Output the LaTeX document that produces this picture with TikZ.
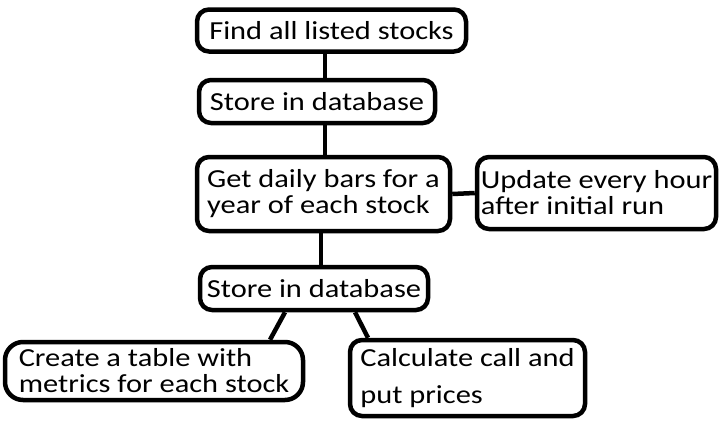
\documentclass[tikz,border=0pt]{standalone}
\usepackage{fontspec}
\setmainfont{Carlito}[FakeStretch=1.17]
\usepackage{tikz}

\begin{document}
\begin{tikzpicture}[
    x=1pt, y=-1pt,
    box/.style={rectangle, draw, line width=4.5pt, rounded corners=12pt, align=left, inner sep=0pt, font=\fontsize{26}{26}\selectfont},
    link/.style={line width=4.5pt}
  ]
    \useasboundingbox (0,0) rectangle (727,423);
    \node[box, minimum width=269pt, minimum height=42pt] (find) at (331.5,30.5) {Find all listed stocks};
    \node[box, minimum width=236pt, minimum height=43pt] (store1) at (317,101.5) {Store in database};
    \node[box, minimum width=253pt, minimum height=74pt] (bars) at (323.5,194) {Get daily bars for a\\year of each stock};
    \node[box, minimum width=239pt, minimum height=72pt] (update) at (596.5,193) {Update every hour\\after initial run};
    \node[box, minimum width=228pt, minimum height=43pt] (store2) at (314,288.5) {Store in database};
    \node[box, minimum width=298pt, minimum height=58pt, rounded corners=18pt] (table) at (154,371) {Create a table with\\metrics for each stock};
    \node[box, minimum width=235pt, minimum height=76pt] (prices) at (467.5,378) {Calculate call and\\[11pt]put prices};

    \draw[link] ([xshift=-6.5pt]find.south) -- ([xshift=-6.5pt]find.south |- store1.north);
    \draw[link] ([xshift=8pt]store1.south) -- ([xshift=8pt]store1.south |- bars.north);
    \draw[link] (bars.east) -- (update.west);
    \draw[link] ([xshift=-2.5pt]bars.south) -- ([xshift=-2.5pt]bars.south |- store2.north);
    \draw[link] ([xshift=-29pt]store2.south) -- ([xshift=116pt]table.north);
    \draw[link] ([xshift=41pt]store2.south) -- ([xshift=-99.5pt]prices.north);
  \end{tikzpicture}
\end{document}
